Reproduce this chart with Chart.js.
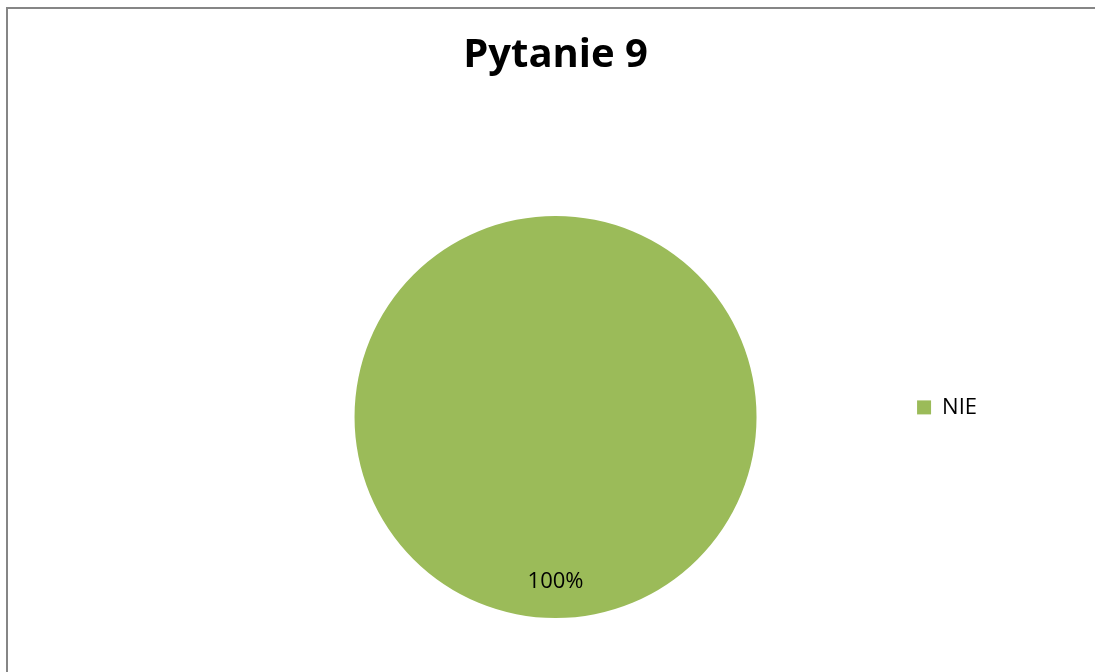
<!DOCTYPE html>
<html lang="pl">
<head>
    <meta charset="UTF-8">
    <title>Pytanie 9</title>
    <script src="https://cdn.jsdelivr.net/npm/chart.js"></script>
    <style>
        body {
            margin: 0;
            padding: 0;
            background: #ffffff;
        }
        #wrap {
            width: 1095px;
            height: 672px;
        }
    </style>
</head>
<body>
    <div id="wrap">
        <canvas id="myChart" width="1095" height="672"></canvas>
    </div>

    <script>
        // dane wykresu
        const chartTitle = 'Pytanie 9';
        const answerLabels = ['NIE'];
        const answerValues = [100];
        const answerColors = ['#9BBB59'];

        const FONT = "'Open Sans', 'Liberation Sans', sans-serif";

        // ramka wokół wykresu (jak w Excelu)
        const frameBorder = {
            id: 'frameBorder',
            beforeDraw(chart) {
                const ctx = chart.ctx;
                ctx.save();
                ctx.fillStyle = '#ffffff';
                ctx.fillRect(0, 0, chart.width, chart.height);
                ctx.strokeStyle = '#868686';
                ctx.lineWidth = 2;
                ctx.beginPath();
                ctx.moveTo(7, chart.height + 2);
                ctx.lineTo(7, 8);
                ctx.lineTo(chart.width + 2, 8);
                ctx.stroke();
                ctx.restore();
            }
        };

        // etykiety procentowe na wycinkach
        const percentLabels = {
            id: 'percentLabels',
            afterDatasetsDraw(chart) {
                const ctx = chart.ctx;
                const meta = chart.getDatasetMeta(0);
                const total = answerValues.reduce((a, b) => a + b, 0);
                ctx.save();
                ctx.font = '22px ' + FONT;
                ctx.fillStyle = '#000000';
                ctx.textAlign = 'center';
                ctx.textBaseline = 'middle';
                meta.data.forEach((arc, i) => {
                    const p = arc.getProps(['x', 'y', 'startAngle', 'endAngle', 'outerRadius']);
                    const mid = (p.startAngle + p.endAngle) / 2;
                    const r = p.outerRadius * 0.82;
                    const pct = Math.round(answerValues[i] / total * 100) + '%';
                    ctx.fillText(pct, p.x + Math.cos(mid) * r, p.y + Math.sin(mid) * r);
                });
                ctx.restore();
            }
        };

        const ctx = document.getElementById('myChart').getContext('2d');
        const myChart = new Chart(ctx, {
            type: 'pie',
            data: {
                labels: answerLabels,
                datasets: [{
                    data: answerValues,
                    backgroundColor: answerColors,
                    borderWidth: 0,
                    hoverOffset: 0,
                    offset: 0
                }]
            },
            options: {
                responsive: false,
                animation: false,
                layout: {
                    padding: { left: 200, right: 108, top: 0, bottom: 54 }
                },
                plugins: {
                    title: {
                        display: true,
                        text: chartTitle,
                        fullSize: false,
                        color: '#000000',
                        font: { family: FONT, size: 40, weight: 'bold', lineHeight: 1.2 },
                        padding: { top: 32, bottom: 136 }
                    },
                    legend: {
                        position: 'right',
                        align: 'start',
                        fullSize: false,
                        title: {
                            display: true,
                            text: '',
                            font: { size: 12, lineHeight: 1.2 },
                            padding: { top: 160, bottom: 0 }
                        },
                        labels: {
                            boxWidth: 14,
                            boxHeight: 14,
                            padding: 6,
                            color: '#000000',
                            font: { family: FONT, size: 22 }
                        }
                    },
                    tooltip: { enabled: false }
                }
            },
            plugins: [frameBorder, percentLabels]
        });
    </script>
</body>
</html>
